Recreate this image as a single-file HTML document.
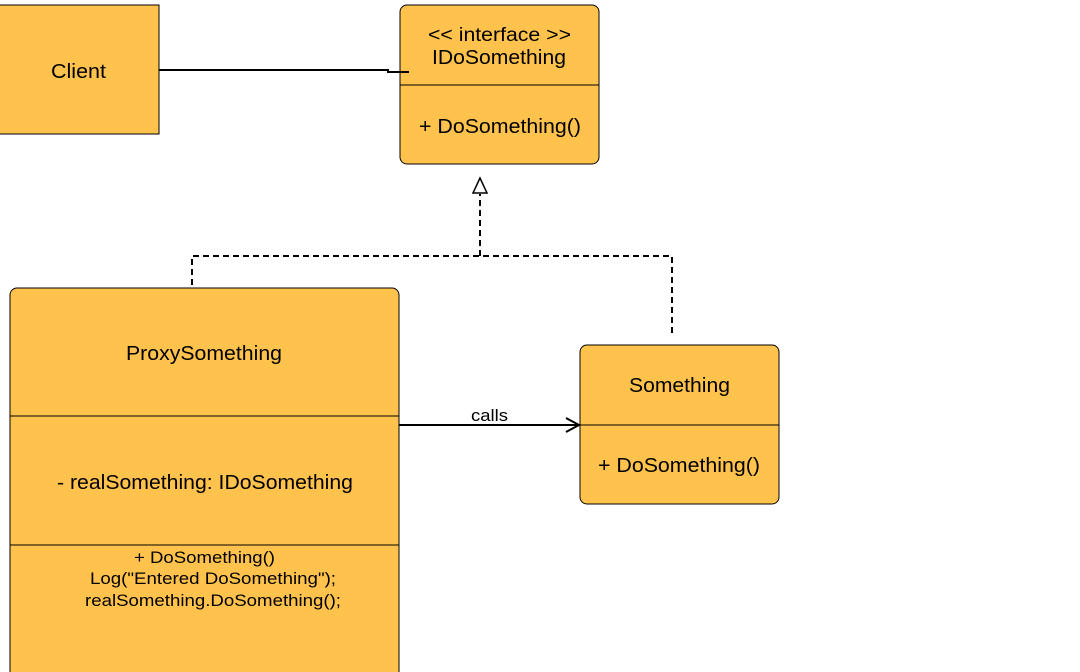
<!DOCTYPE html>
<html><head><meta charset="utf-8"><style>body{margin:0;background:#fff}svg{display:block}text{font-family:"Liberation Sans",sans-serif;fill:#000}</style></head><body>
<svg width="1080" height="672" viewBox="0 0 1080 672">
<rect x="-2" y="5" width="161" height="129" fill="#FFC24D" stroke="#000" stroke-width="1"/>
<text x="51" y="78" font-size="20" textLength="55" lengthAdjust="spacingAndGlyphs">Client</text>
<rect x="400" y="5" width="199" height="159" rx="7" fill="#FFC24D" stroke="#000"/>
<line x1="400" y1="85" x2="599" y2="85" stroke="#000"/>
<text x="428" y="41" font-size="19" textLength="143" lengthAdjust="spacingAndGlyphs">&lt;&lt; interface &gt;&gt;</text>
<text x="432" y="64" font-size="20" textLength="134" lengthAdjust="spacingAndGlyphs">IDoSomething</text>
<text x="419" y="133" font-size="20" textLength="162" lengthAdjust="spacingAndGlyphs">+ DoSomething()</text>
<polyline points="159,70 388,70 388,72 409,72" fill="none" stroke="#000" stroke-width="2"/>
<rect x="10" y="288" width="389" height="390" rx="7" fill="#FFC24D" stroke="#000"/>
<line x1="10" y1="416" x2="399" y2="416" stroke="#000"/>
<line x1="10" y1="545" x2="399" y2="545" stroke="#000"/>
<text x="126" y="360" font-size="20" textLength="156" lengthAdjust="spacingAndGlyphs">ProxySomething</text>
<text x="57" y="489" font-size="20" textLength="296" lengthAdjust="spacingAndGlyphs">- realSomething: IDoSomething</text>
<text x="134" y="563" font-size="17" textLength="141" lengthAdjust="spacingAndGlyphs">+ DoSomething()</text>
<text x="90" y="584" font-size="17" textLength="246" lengthAdjust="spacingAndGlyphs">Log("Entered DoSomething");</text>
<text x="85" y="606" font-size="17" textLength="256" lengthAdjust="spacingAndGlyphs">realSomething.DoSomething();</text>
<rect x="580" y="345" width="199" height="159" rx="7" fill="#FFC24D" stroke="#000"/>
<line x1="580" y1="425" x2="779" y2="425" stroke="#000"/>
<text x="629" y="392" font-size="20" textLength="101" lengthAdjust="spacingAndGlyphs">Something</text>
<text x="598" y="472" font-size="20" textLength="162" lengthAdjust="spacingAndGlyphs">+ DoSomething()</text>
<line x1="399" y1="425" x2="579" y2="425" stroke="#000" stroke-width="2"/>
<polyline points="566,418 579,425 566,432" fill="none" stroke="#000" stroke-width="2"/>
<rect x="470" y="406" width="39" height="16" fill="#fff"/>
<text x="471" y="421" font-size="17" textLength="37" lengthAdjust="spacingAndGlyphs">calls</text>
<g fill="none" stroke="#000" stroke-width="2" stroke-dasharray="6,4">
<polyline points="192,285 192,256 672,256 672,337"/>
<line x1="480" y1="256" x2="480" y2="194"/>
</g>
<polygon points="480,178 473,193 487,193" fill="#fff" stroke="#000" stroke-width="1.5"/>
</svg>
</body></html>
